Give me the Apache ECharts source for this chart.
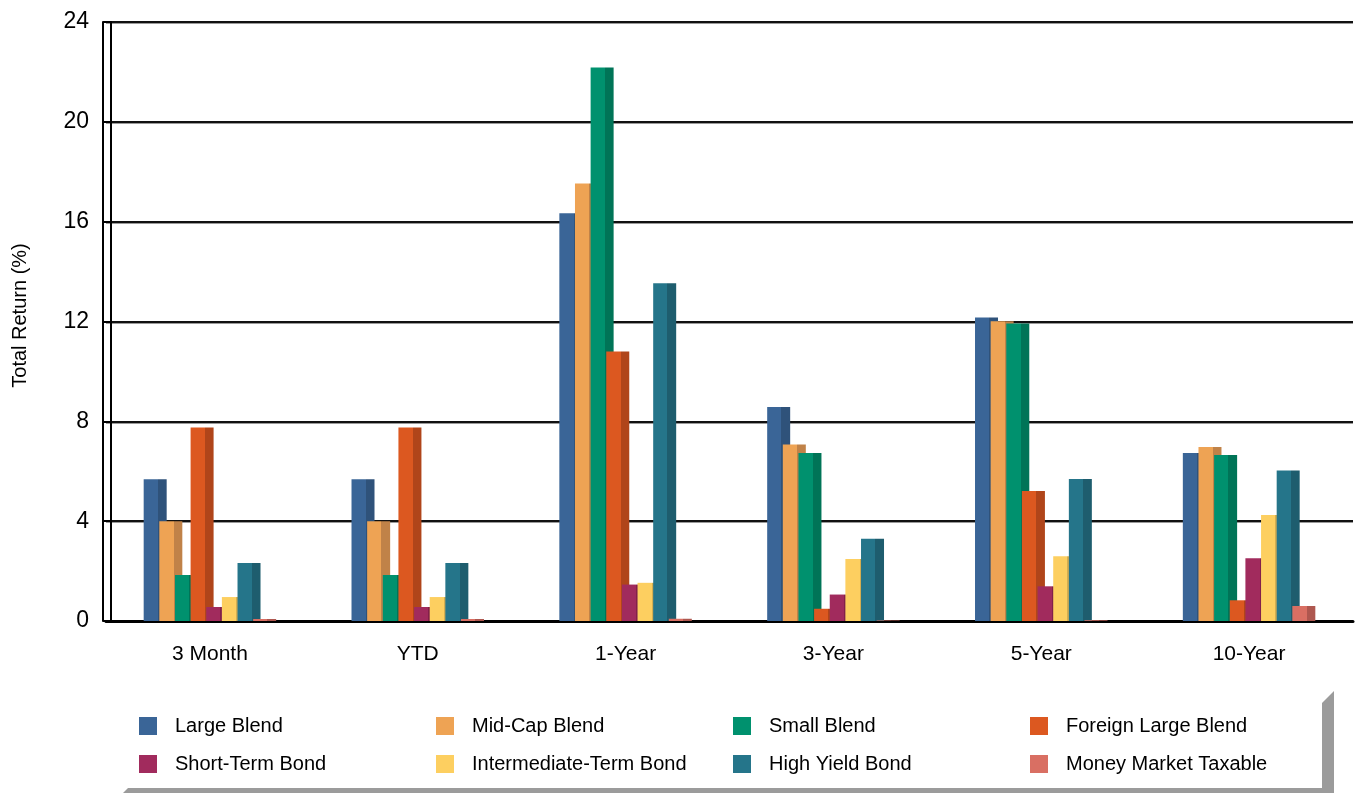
<!DOCTYPE html>
<html><head><meta charset="utf-8">
<script src="https://cdn.jsdelivr.net/npm/echarts@6/dist/echarts.min.js"></script>
<style>html,body{margin:0;padding:0;background:#fff}#c{width:1356px;height:793px}</style>
</head><body><div id="c"></div>
<script>
const categories = ['3 Month', 'YTD', '1-Year', '3-Year', '5-Year', '10-Year'];
const seriesNames = ['Large Blend', 'Mid-Cap Blend', 'Small Blend', 'Foreign Large Blend',
  'Short-Term Bond', 'Intermediate-Term Bond', 'High Yield Bond', 'Money Market Taxable'];
const largeBlend = [5.68, 5.68, 16.34, 8.57, 12.16, 6.73];
const midCapBlend = [4.00, 4.00, 17.53, 7.07, 12.01, 6.97];
const smallBlend = [1.84, 1.84, 22.18, 6.73, 11.92, 6.65];
const foreignLargeBlend = [7.75, 7.75, 10.80, 0.49, 5.21, 0.83];
const shortTermBond = [0.56, 0.56, 1.46, 1.06, 1.39, 2.51];
const intermediateTermBond = [0.96, 0.96, 1.53, 2.48, 2.59, 4.25];
const highYieldBond = [2.32, 2.32, 13.53, 3.30, 5.69, 6.03];
const moneyMarketTaxable = [0.08, 0.08, 0.09, 0.02, 0.03, 0.60];
const yMin = 0, yMax = 24, yStep = 4;

const allValues = [largeBlend, midCapBlend, smallBlend, foreignLargeBlend,
  shortTermBond, intermediateTermBond, highYieldBond, moneyMarketTaxable];
const frontColors = ['#3a6597', '#eea354', '#00916e', '#dc5820', '#a12b5d', '#fdcf60', '#25758a', '#d96f63'];
const sideColors = ['#2f527a', '#c08248', '#007457', '#b0451a', '#82204a', '#d4ad50', '#1e5d6e', '#ae574f'];
const FONT = '"Liberation Sans", Arial, sans-serif';

function grad(f, s) {
  return {
    type: 'linear', x: 0, y: 0, x2: 1, y2: 0,
    colorStops: [
      { offset: 0, color: f }, { offset: 0.62, color: f },
      { offset: 0.62, color: s }, { offset: 1, color: s }
    ]
  };
}

const chart = echarts.init(document.getElementById('c'), null, { renderer: 'canvas' });
chart.setOption({
  backgroundColor: '#ffffff',
  animation: false,
  grid: { left: 106, right: 3, top: 22, bottom: 172 },
  xAxis: {
    type: 'category',
    data: categories,
    axisLine: { show: true, lineStyle: { color: '#000', width: 3 } },
    axisTick: { show: false },
    axisLabel: { color: '#000', fontSize: 21, fontFamily: FONT, margin: 23 }
  },
  yAxis: [
    {
      type: 'value', position: 'left', offset: -5,
      min: yMin, max: yMax, interval: yStep,
      axisLine: { show: true, lineStyle: { color: '#000', width: 2 } },
      axisTick: { show: false },
      axisLabel: { show: false },
      splitLine: { show: true, lineStyle: { color: '#111', width: 2, shadowColor: '#9a9a9a', shadowOffsetY: 1, shadowBlur: 0 } }
    },
    {
      type: 'value', position: 'left', offset: 3,
      min: yMin, max: yMax, interval: yStep,
      name: 'Total Return (%)',
      nameLocation: 'middle', nameGap: 73, nameRotate: 90,
      nameTextStyle: { color: '#000', fontSize: 20, fontFamily: FONT, padding: [0, 0, 0, 12] },
      axisLine: { show: true, lineStyle: { color: '#000', width: 2 } },
      axisTick: { show: true, inside: true, length: 8, lineStyle: { color: '#000', width: 2 } },
      axisLabel: { color: '#000', fontSize: 23, fontFamily: FONT, margin: 14 },
      splitLine: { show: false }
    }
  ],
  legend: {
    left: 139, top: 713, width: 1200, padding: 0,
    itemWidth: 18, itemHeight: 18, itemGap: 12,
    icon: 'rect',
    textStyle: { fontSize: 20, fontFamily: FONT, color: '#000', width: 249, padding: [0, 0, 8, 13], lineHeight: 18 },
    data: seriesNames.map((n, i) => ({ name: n, itemStyle: { color: frontColors[i] } }))
  },
  graphic: [
    { type: 'polygon', shape: { points: [[1322, 703], [1334, 691], [1334, 793], [1322, 793]] }, style: { fill: '#9b9b9b' }, silent: true },
    { type: 'polygon', shape: { points: [[123, 793], [128, 788], [1322, 788], [1322, 793]] }, style: { fill: '#9b9b9b' }, silent: true }
  ],
  series: seriesNames.map((n, i) => ({
    name: n,
    type: 'bar',
    yAxisIndex: 0,
    data: allValues[i],
    barWidth: 23,
    barGap: '-32%',
    itemStyle: { color: grad(frontColors[i], sideColors[i]) }
  }))
});
</script>
</body></html>
